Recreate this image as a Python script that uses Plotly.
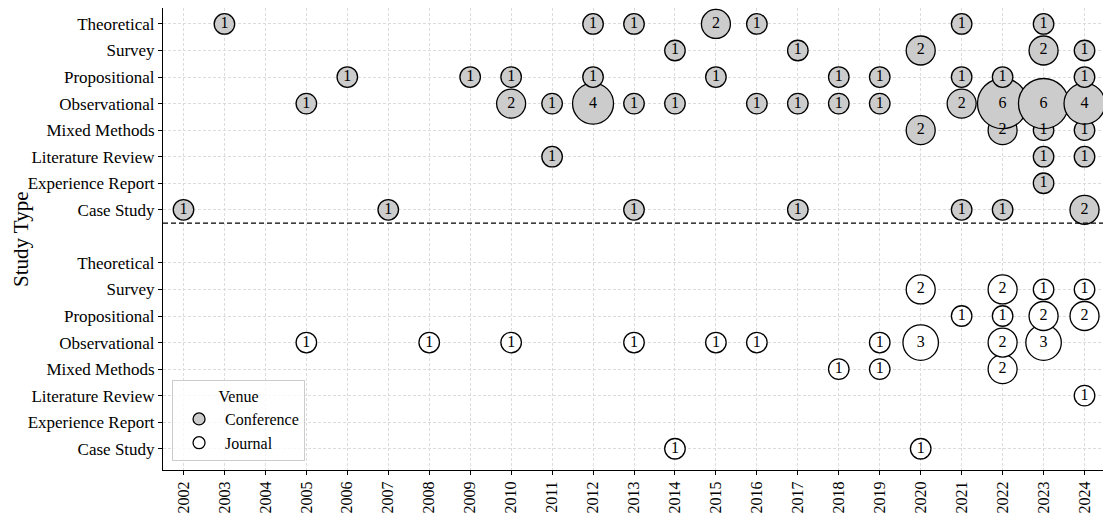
import plotly.graph_objects as go

years = list(range(2002, 2025))
study_types = ["Case Study", "Experience Report", "Literature Review", "Mixed Methods",
               "Observational", "Propositional", "Survey", "Theoretical"]

# counts per study type -> {year: papers}
conference = {
    "Case Study": {2002: 1, 2007: 1, 2013: 1, 2017: 1, 2021: 1, 2022: 1, 2024: 2},
    "Experience Report": {2023: 1},
    "Literature Review": {2011: 1, 2023: 1, 2024: 1},
    "Mixed Methods": {2020: 2, 2022: 2, 2023: 1, 2024: 1},
    "Observational": {2005: 1, 2010: 2, 2011: 1, 2012: 4, 2013: 1, 2014: 1, 2016: 1, 2017: 1,
                      2018: 1, 2019: 1, 2021: 2, 2022: 6, 2023: 6, 2024: 4},
    "Propositional": {2006: 1, 2009: 1, 2010: 1, 2012: 1, 2015: 1, 2018: 1, 2019: 1,
                      2021: 1, 2022: 1, 2024: 1},
    "Survey": {2014: 1, 2017: 1, 2020: 2, 2023: 2, 2024: 1},
    "Theoretical": {2003: 1, 2012: 1, 2013: 1, 2015: 2, 2016: 1, 2021: 1, 2023: 1},
}
journal = {
    "Case Study": {2014: 1, 2020: 1},
    "Experience Report": {},
    "Literature Review": {2024: 1},
    "Mixed Methods": {2018: 1, 2019: 1, 2022: 2},
    "Observational": {2005: 1, 2008: 1, 2010: 1, 2013: 1, 2015: 1, 2016: 1, 2019: 1,
                      2020: 3, 2022: 2, 2023: 3},
    "Propositional": {2021: 1, 2022: 1, 2023: 2, 2024: 2},
    "Survey": {2020: 2, 2022: 2, 2023: 1, 2024: 1},
    "Theoretical": {},
}

FONT = "Liberation Serif"
venues = [("Journal", journal, "white", 0), ("Conference", conference, "#cccccc", 9)]

fig = go.Figure()
text_traces = []
for name, data, fill, offset in venues:
    xs, ys, cs = [], [], []
    for i, st in enumerate(study_types):
        for yr, c in data[st].items():
            xs.append(yr)
            ys.append(i + offset)
            cs.append(c)
    # bubble area proportional to count
    fig.add_trace(go.Scatter(
        x=xs, y=ys, mode="markers", showlegend=False, hoverinfo="skip",
        marker=dict(size=[20.5 * c ** 0.5 for c in cs], sizemode="diameter", color=fill,
                    line=dict(color="black", width=1.3), opacity=1)
    ))
    text_traces.append(go.Scatter(
        x=xs, y=ys, mode="text", text=[str(c) for c in cs], showlegend=False,
        textfont=dict(family=FONT, size=16, color="black"), hoverinfo="skip"
    ))
for t in text_traces:
    fig.add_trace(t)

# legend entries
for name, fill in [("Conference", "#cccccc"), ("Journal", "white")]:
    fig.add_trace(go.Scatter(
        x=[None], y=[None], mode="markers", name=name,
        marker=dict(size=12, color=fill, line=dict(color="black", width=1.3))
    ))

fig.add_shape(type="line", xref="paper", x0=0, x1=1, y0=8.5, y1=8.5,
              line=dict(color="black", width=1.3, dash="5px,3px"))

# y-axis title as an annotation so it sits clear of the long tick labels
fig.add_annotation(text="Study Type", textangle=-90, xref="paper", yref="paper",
                   x=-0.1645, y=0.5, xanchor="left", yanchor="middle", showarrow=False,
                   borderpad=0, font=dict(size=21))

fig.update_layout(
    width=1111, height=521,
    margin=dict(l=155, r=14, t=0, b=59),
    plot_bgcolor="white", paper_bgcolor="white",
    font=dict(family=FONT, size=17, color="black"),
    xaxis=dict(range=[2001.5, 2024.5], tickvals=years, ticktext=[str(y) for y in years],
               tickangle=-90, showgrid=True, gridcolor="#dcdcdc", griddash="3px,2px", gridwidth=0.7,
               showline=True, linecolor="black", linewidth=1, mirror=True,
               ticks="outside", ticklen=4, tickcolor="black", zeroline=False,
               automargin=False, tickfont=dict(size=16)),
    yaxis=dict(range=[-0.8, 16.6], tickvals=list(range(8)) + list(range(9, 17)),
               ticktext=study_types + study_types,
               showgrid=True, gridcolor="#dcdcdc", griddash="3px,2px", gridwidth=0.7,
               showline=True, linecolor="black", linewidth=1, mirror=True,
               ticks="outside", ticklen=4, tickcolor="black", zeroline=False,
               automargin=False, tickfont=dict(size=17)),
    legend=dict(title=dict(text="Venue", side="top center", font=dict(size=16)),
                x=0.0096, y=0.019, xanchor="left", yanchor="bottom", itemwidth=42,
                bgcolor="rgba(255,255,255,0.8)", bordercolor="#cccccc", borderwidth=1,
                font=dict(size=16)),
)

fig.write_html("out.html")
